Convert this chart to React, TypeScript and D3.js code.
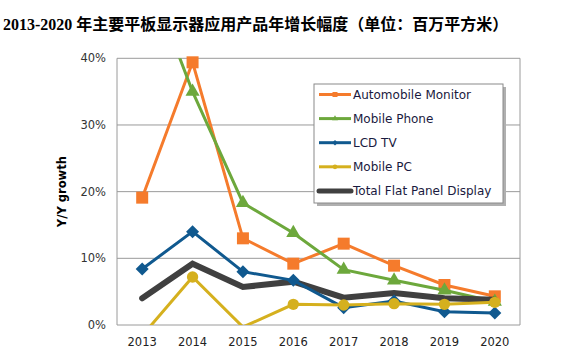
import React from "react";
import * as d3 from "d3";

// years on the x axis
const years = ["2013", "2014", "2015", "2016", "2017", "2018", "2019", "2020"];

// y/y growth, in %
const automobileMonitor = [19.1, 39.4, 13.0, 9.2, 12.2, 8.9, 6.0, 4.3];
const mobilePhone = [54.8, 35.0, 18.3, 13.8, 8.3, 6.7, 5.2, 3.5];
const lcdTv = [8.4, 14.0, 8.0, 6.7, 2.6, 3.6, 2.0, 1.8];
const mobilePc = [-1.6, 7.2, -0.3, 3.1, 3.0, 3.2, 3.1, 3.4];
const totalFpd = [4.0, 9.2, 5.7, 6.5, 4.1, 4.8, 4.0, 3.8];

const yTicks = [0, 10, 20, 30, 40];

const seriesNames = ["Automobile Monitor", "Mobile Phone", "LCD TV", "Mobile PC", "Total Flat Panel Display"];

type Marker = "square" | "triangle" | "diamond" | "circle" | "none";

const series = [
  { name: seriesNames[0], values: automobileMonitor, color: "#F57B2C", width: 3, marker: "square" as Marker },
  { name: seriesNames[1], values: mobilePhone, color: "#6DA83C", width: 3, marker: "triangle" as Marker },
  { name: seriesNames[2], values: lcdTv, color: "#10598F", width: 3, marker: "diamond" as Marker },
  { name: seriesNames[3], values: mobilePc, color: "#D5B01E", width: 3, marker: "circle" as Marker },
  { name: seriesNames[4], values: totalFpd, color: "#404040", width: 6, marker: "none" as Marker },
];

// drawing order (total sits between the upper and lower series)
const drawOrder = [0, 1, 4, 2, 3];

const W = 580;
const H = 360;
const plot = { left: 117, right: 520, top: 58.3, bottom: 325 };

const font = "'DejaVu Sans', Verdana, sans-serif";

function markerPath(kind: Marker, size: number) {
  if (kind === "square") return d3.symbol(d3.symbolSquare, size * size)();
  if (kind === "triangle") return d3.symbol(d3.symbolTriangle, size * size * 0.6)();
  if (kind === "diamond") return d3.symbol(d3.symbolDiamond2, size * size * 0.75)();
  if (kind === "circle") return d3.symbol(d3.symbolCircle, size * size * 0.7)();
  return "";
}

export default function App() {
  const x = d3.scaleBand<string>().domain(years).range([plot.left, plot.right]);
  const cx = (yr: string) => (x(yr) ?? 0) + x.bandwidth() / 2;
  const y = d3.scaleLinear().domain([0, 40]).range([plot.bottom, plot.top]);

  const line = d3
    .line<number>()
    .x((_, i) => cx(years[i]))
    .y((d) => y(d));

  const legendX = 314;
  const legendY = 84;
  const legendW = 189;
  const legendH = 119;

  return (
    <svg
      width={W}
      height={H}
      style={{ position: "absolute", left: 0, top: 0, background: "#fff" }}
    >
      <defs>
        <clipPath id="plotClip">
          <rect x={plot.left} y={plot.top} width={plot.right - plot.left} height={plot.bottom - plot.top} />
        </clipPath>
      </defs>

      <text
        x={3}
        y={30}
        fontSize={16}
        fontWeight="bold"
        fill="#000"
        style={{ fontFamily: "'Liberation Serif', 'Noto Sans CJK SC', serif" }}
      >
        2013-2020 年主要平板显示器应用产品年增长幅度（单位：百万平方米）
      </text>

      {/* grid */}
      {yTicks.map((t) => (
        <g key={t}>
          <line x1={plot.left} x2={plot.right} y1={y(t)} y2={y(t)} stroke="#9a9a9a" strokeWidth={1} />
          <text
            x={106}
            y={y(t)}
            dy="0.35em"
            textAnchor="end"
            fontSize={11.5}
            fill="#333"
            style={{ fontFamily: font }}
          >
            {t}%
          </text>
        </g>
      ))}
      <line x1={plot.left} x2={plot.left} y1={plot.top} y2={plot.bottom} stroke="#9a9a9a" />
      <line x1={plot.right} x2={plot.right} y1={plot.top} y2={plot.bottom} stroke="#9a9a9a" />

      {years.map((yr) => (
        <text
          key={yr}
          x={cx(yr)}
          y={342}
          dy="0.35em"
          textAnchor="middle"
          fontSize={11.5}
          fill="#222"
          style={{ fontFamily: font }}
        >
          {yr}
        </text>
      ))}

      <text
        transform={`translate(62,${(plot.top + plot.bottom) / 2}) rotate(-90)`}
        textAnchor="middle"
        dy="0.35em"
        fontSize={11.5}
        fontWeight="bold"
        fill="#000"
        style={{ fontFamily: font }}
      >
        Y/Y growth
      </text>

      {/* series */}
      {drawOrder.map((si) => {
        const s = series[si];
        return (
          <g key={s.name}>
            <path
              d={line(s.values) ?? ""}
              fill="none"
              stroke={s.color}
              strokeWidth={s.width}
              strokeLinejoin="miter"
              strokeLinecap={s.marker === "none" ? "round" : "butt"}
              clipPath="url(#plotClip)"
            />
            {s.marker !== "none" &&
              s.values.map((v, i) =>
                v >= 0 && v <= 40 ? (
                  <path
                    key={i}
                    d={markerPath(s.marker, 12) ?? ""}
                    transform={`translate(${cx(years[i])},${y(v)})`}
                    fill={s.color}
                  />
                ) : null
              )}
          </g>
        );
      })}

      {/* legend */}
      <rect x={legendX + 3} y={legendY + 3} width={legendW} height={legendH} fill="#b0b0b0" />
      <rect x={legendX} y={legendY} width={legendW} height={legendH} fill="#fff" stroke="#8a8a8a" />
      {series.map((s, i) => {
        const ly = legendY + 10.5 + i * 24.1;
        return (
          <g key={s.name}>
            <line
              x1={319}
              x2={351}
              y1={ly}
              y2={ly}
              stroke={s.color}
              strokeWidth={s.marker === "none" ? 5 : 3}
              strokeLinecap={s.marker === "none" ? "round" : "butt"}
            />
            {s.marker !== "none" && (
              <path d={markerPath(s.marker, 5) ?? ""} transform={`translate(335,${ly})`} fill={s.color} />
            )}
            <text x={353} y={ly} dy="0.35em" fontSize={12} fill="#1a1a40" style={{ fontFamily: font }}>
              {s.name}
            </text>
          </g>
        );
      })}
    </svg>
  );
}
